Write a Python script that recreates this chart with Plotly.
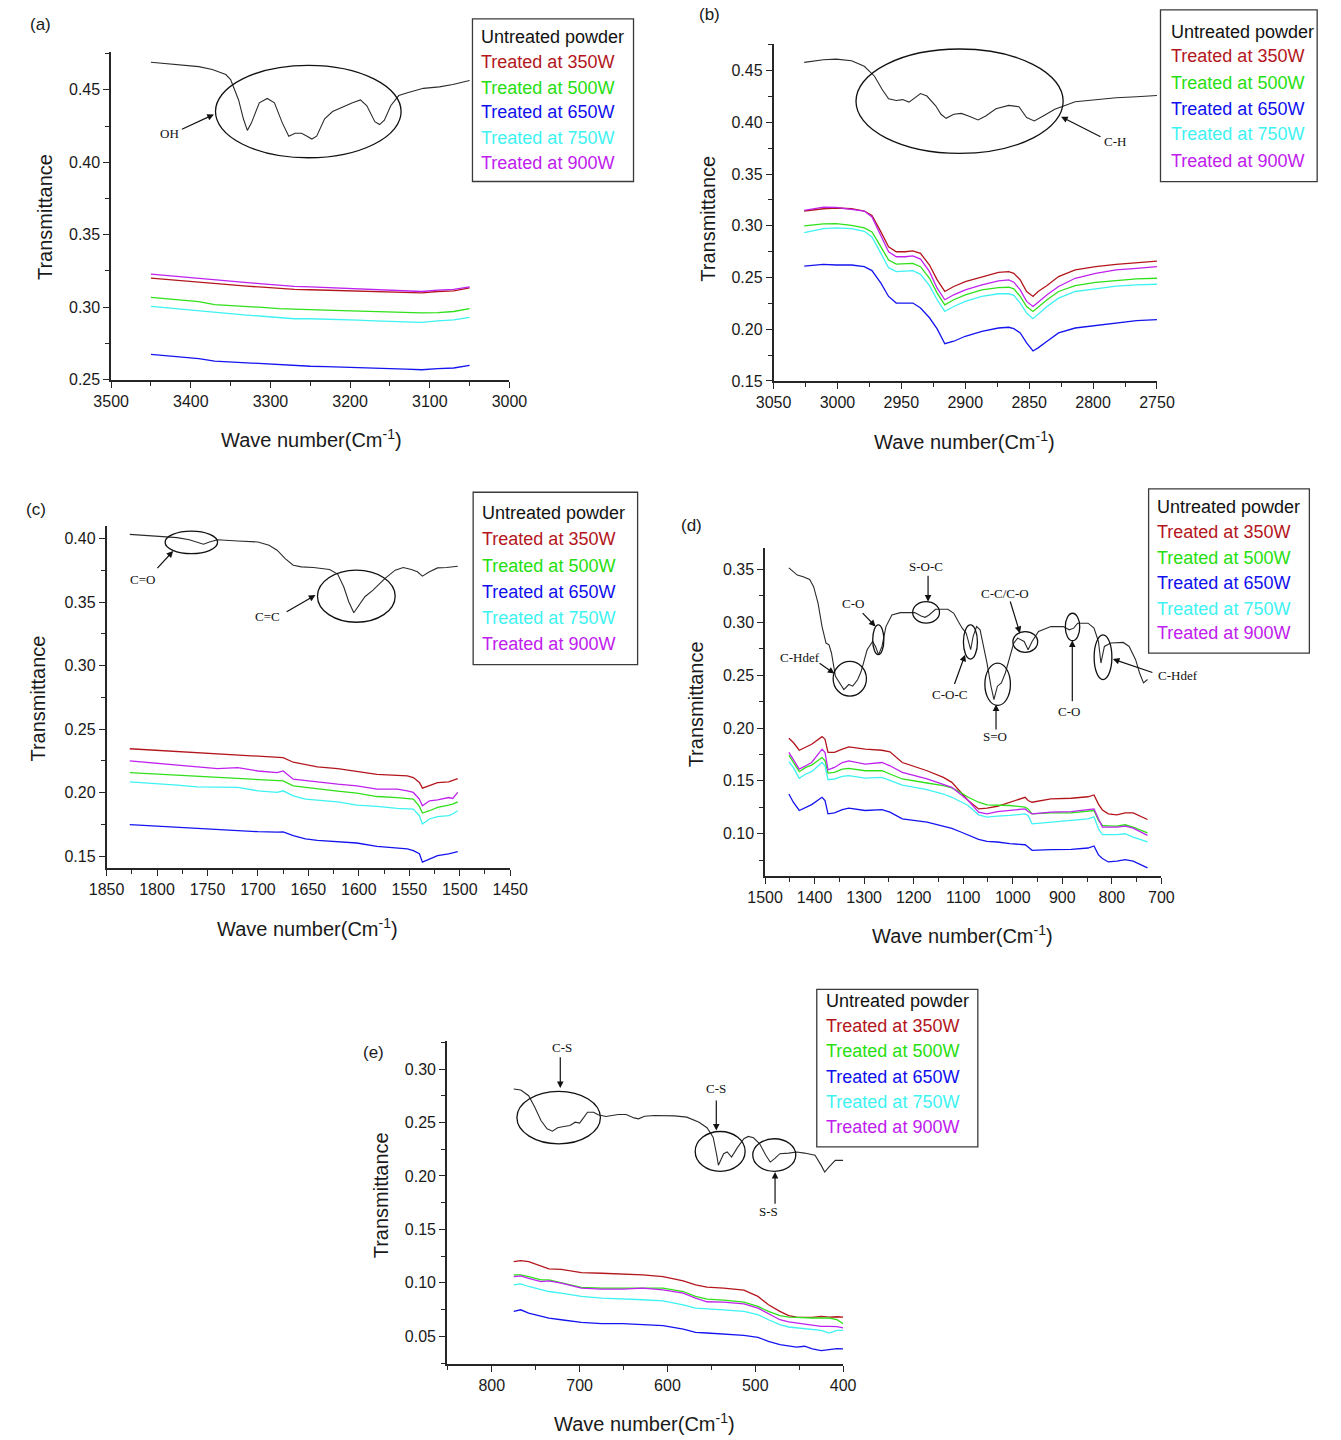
import plotly.graph_objects as go

FIG_W, FIG_H = 1341, 1440

SERIES_NAMES = ["Untreated powder", "Treated at 350W", "Treated at 500W",
                "Treated at 650W", "Treated at 750W", "Treated at 900W"]

# ---------------- (a) 3450-3050 cm-1 ----------------
A_UNT_WN = [3450, 3420, 3390, 3373, 3356, 3350, 3340, 3334, 3329, 3324, 3314, 3304,
            3295, 3285, 3277, 3269, 3261, 3254, 3248, 3242, 3232, 3222, 3210, 3197,
            3187, 3179, 3169, 3163, 3157, 3149, 3139, 3128, 3108, 3088, 3071, 3050]
A_UNT_T = [0.469, 0.4675, 0.466, 0.464, 0.4605, 0.457, 0.443, 0.430, 0.422, 0.427,
           0.441, 0.444, 0.441, 0.427, 0.418, 0.420, 0.420, 0.418, 0.416, 0.418,
           0.430, 0.435, 0.438, 0.441, 0.443, 0.439, 0.428, 0.426, 0.429, 0.439,
           0.446, 0.448, 0.451, 0.452, 0.4537, 0.4564]
A_WN = [3450, 3430, 3410, 3390, 3370, 3350, 3330, 3310, 3290, 3270, 3250, 3230, 3210,
        3190, 3170, 3150, 3130, 3110, 3090, 3070, 3050]
A_350 = [0.3200, 0.3190, 0.3180, 0.3172, 0.3160, 0.3152, 0.3145, 0.3138, 0.3130, 0.3122,
         0.3120, 0.3117, 0.3115, 0.3112, 0.3110, 0.3108, 0.3103, 0.3098, 0.3108, 0.3112, 0.3133]
A_500 = [0.3067, 0.3058, 0.3047, 0.3038, 0.3017, 0.3012, 0.3005, 0.2998, 0.2990, 0.2985,
         0.2982, 0.2980, 0.2976, 0.2972, 0.2968, 0.2963, 0.2960, 0.2960, 0.2962, 0.2970, 0.2990]
A_650 = [0.2674, 0.2665, 0.2655, 0.2645, 0.2628, 0.2622, 0.2615, 0.2607, 0.2600, 0.2594,
         0.2592, 0.2590, 0.2585, 0.2582, 0.2578, 0.2575, 0.2572, 0.2568, 0.2575, 0.2580, 0.2598]
A_750 = [0.3005, 0.2995, 0.2985, 0.2975, 0.2960, 0.2953, 0.2945, 0.2937, 0.2928, 0.2920,
         0.2920, 0.2918, 0.2915, 0.2910, 0.2905, 0.2900, 0.2898, 0.2895, 0.2905, 0.2912, 0.2930]
A_900 = [0.3228, 0.3218, 0.3207, 0.3197, 0.3185, 0.3177, 0.3170, 0.3160, 0.3152, 0.3143,
         0.3140, 0.3136, 0.3132, 0.3127, 0.3122, 0.3117, 0.3112, 0.3108, 0.3118, 0.3122, 0.3140]

# ---------------- (b) 3025-2750 cm-1 ----------------
B_UNT_WN = [3026, 3011, 3001, 2989, 2979, 2971, 2965, 2960, 2954, 2949, 2944, 2939,
            2935, 2930, 2923, 2919, 2915, 2909, 2903, 2896, 2890, 2884, 2876, 2866,
            2858, 2852, 2846, 2839, 2830, 2814, 2798, 2782, 2766, 2750]
B_UNT_T = [0.4580, 0.4606, 0.4611, 0.4596, 0.4542, 0.4446, 0.4318, 0.4228, 0.4212, 0.4220,
           0.4196, 0.4238, 0.4279, 0.4254, 0.4158, 0.4078, 0.4039, 0.4078, 0.4087, 0.4055,
           0.4023, 0.4062, 0.4132, 0.4164, 0.4151, 0.4046, 0.4014, 0.4062, 0.4126, 0.4199,
           0.4222, 0.4238, 0.4247, 0.4260]
B_WN = [3026, 3011, 3001, 2989, 2979, 2973, 2966, 2960, 2954, 2947, 2941, 2935, 2928,
        2922, 2916, 2909, 2900, 2887, 2874, 2866, 2862, 2857, 2852, 2847, 2843, 2836,
        2827, 2814, 2798, 2782, 2766, 2750]
B_350 = [0.3143, 0.3165, 0.3172, 0.3165, 0.3143, 0.3100, 0.2941, 0.2797, 0.2749, 0.2749,
         0.2758, 0.2733, 0.2621, 0.2477, 0.2365, 0.2413, 0.2461, 0.2509, 0.2550, 0.2557,
         0.2541, 0.2477, 0.2365, 0.2317, 0.2365, 0.2422, 0.2509, 0.2573, 0.2605, 0.2627,
         0.2646, 0.2659]
B_500 = [0.2999, 0.3018, 0.3021, 0.3005, 0.2979, 0.2941, 0.2797, 0.2669, 0.2630, 0.2633,
         0.2637, 0.2605, 0.2493, 0.2349, 0.2236, 0.2285, 0.2333, 0.2381, 0.2403, 0.2406,
         0.2390, 0.2317, 0.2220, 0.2172, 0.2214, 0.2285, 0.2365, 0.2422, 0.2454, 0.2473,
         0.2486, 0.2493]
B_650 = [0.2611, 0.2627, 0.2621, 0.2621, 0.2605, 0.2567, 0.2445, 0.2317, 0.2253, 0.2253,
         0.2253, 0.2205, 0.2111, 0.2004, 0.1860, 0.1884, 0.1932, 0.1980, 0.2012, 0.2019,
         0.2006, 0.1964, 0.1868, 0.1790, 0.1820, 0.1884, 0.1964, 0.2012, 0.2038, 0.2060,
         0.2083, 0.2092]
B_750 = [0.2935, 0.2973, 0.2979, 0.2973, 0.2947, 0.2893, 0.2733, 0.2595, 0.2557, 0.2563,
         0.2566, 0.2531, 0.2422, 0.2285, 0.2172, 0.2220, 0.2269, 0.2317, 0.2343, 0.2343,
         0.2327, 0.2253, 0.2156, 0.2102, 0.2147, 0.2220, 0.2301, 0.2365, 0.2390, 0.2416,
         0.2429, 0.2435]
B_900 = [0.3150, 0.3181, 0.3178, 0.3159, 0.3143, 0.3085, 0.2902, 0.2749, 0.2701, 0.2701,
         0.2710, 0.2678, 0.2557, 0.2397, 0.2285, 0.2333, 0.2381, 0.2429, 0.2467, 0.2477,
         0.2455, 0.2381, 0.2269, 0.2220, 0.2262, 0.2333, 0.2413, 0.2493, 0.2541, 0.2573,
         0.2589, 0.2605]

# ---------------- (c) 1825-1500 cm-1 ----------------
C_UNT_WN = [1827, 1799, 1780, 1768, 1760, 1754, 1748, 1740, 1720, 1700, 1689, 1681,
            1673, 1665, 1657, 1645, 1629, 1621, 1615, 1610, 1605, 1600, 1594, 1586,
            1574, 1564, 1556, 1548, 1542, 1537, 1530, 1522, 1513, 1502]
C_UNT_T = [0.4034, 0.4018, 0.4008, 0.3992, 0.3974, 0.3956, 0.3974, 0.3992, 0.3982, 0.3974,
           0.3948, 0.3909, 0.3843, 0.3791, 0.3778, 0.3773, 0.3757, 0.3721, 0.3621, 0.3504,
           0.3417, 0.3477, 0.3543, 0.3595, 0.3687, 0.3752, 0.3773, 0.3757, 0.3739, 0.3705,
           0.3739, 0.3770, 0.3773, 0.3783]
C_WN = [1827, 1799, 1780, 1760, 1740, 1720, 1700, 1681, 1675, 1665, 1653, 1641, 1621,
        1602, 1582, 1562, 1552, 1546, 1540, 1537, 1530, 1522, 1511, 1507, 1502]
C_350 = [0.2346, 0.2333, 0.2328, 0.2319, 0.2310, 0.2300, 0.2289, 0.2279, 0.2276, 0.2240,
         0.2220, 0.2203, 0.2190, 0.2166, 0.2145, 0.2137, 0.2132, 0.2119, 0.2080, 0.2036,
         0.2054, 0.2080, 0.2085, 0.2095, 0.2111]
C_500 = [0.2158, 0.2145, 0.2137, 0.2128, 0.2119, 0.2110, 0.2100, 0.2096, 0.2093, 0.2054,
         0.2041, 0.2028, 0.2012, 0.1996, 0.1970, 0.1962, 0.1957, 0.1949, 0.1892, 0.1840,
         0.1858, 0.1884, 0.1902, 0.1910, 0.1928]
C_650 = [0.1748, 0.1735, 0.1727, 0.1718, 0.1709, 0.1701, 0.1693, 0.1690, 0.1692, 0.1662,
         0.1636, 0.1625, 0.1615, 0.1604, 0.1578, 0.1564, 0.1557, 0.1544, 0.1520, 0.1453,
         0.1479, 0.1505, 0.1518, 0.1525, 0.1537]
C_750 = [0.2085, 0.2072, 0.2059, 0.2046, 0.2042, 0.2042, 0.2015, 0.2002, 0.2015, 0.1975,
         0.1949, 0.1941, 0.1928, 0.1902, 0.1892, 0.1876, 0.1874, 0.1871, 0.1819, 0.1753,
         0.1793, 0.1811, 0.1819, 0.1832, 0.1858]
C_900 = [0.2250, 0.2231, 0.2216, 0.2203, 0.2190, 0.2198, 0.2171, 0.2158, 0.2171, 0.2106,
         0.2093, 0.2085, 0.2067, 0.2054, 0.2028, 0.2028, 0.2015, 0.2002, 0.1949, 0.1897,
         0.1936, 0.1944, 0.1962, 0.1955, 0.2002]

# ---------------- (d) 1450-725 cm-1 ----------------
D_UNT_WN = [1452, 1435, 1423, 1410, 1402, 1393, 1385, 1377, 1371, 1366, 1358, 1349,
            1341, 1331, 1323, 1313, 1306, 1294, 1283, 1277, 1271, 1264, 1256, 1244,
            1227, 1206, 1198, 1185, 1177, 1169, 1156, 1131, 1119, 1110, 1102, 1094,
            1085, 1080, 1073, 1066, 1060, 1052, 1044, 1038, 1031, 1023, 1015, 1006,
            998, 990, 977, 969, 961, 948, 923, 898, 886, 877, 869, 848, 836, 827,
            822, 815, 802, 777, 765, 752, 744, 736, 728]
D_UNT_T = [0.3516, 0.3447, 0.3431, 0.3406, 0.3337, 0.3180, 0.2960, 0.2804, 0.2788, 0.2710,
           0.2490, 0.2427, 0.2364, 0.2412, 0.2396, 0.2459, 0.2537, 0.2741, 0.2819, 0.2772,
           0.2694, 0.2772, 0.2960, 0.3070, 0.3092, 0.3092, 0.3092, 0.3061, 0.3048, 0.3070,
           0.3124, 0.3124, 0.3086, 0.3008, 0.2945, 0.2898, 0.2741, 0.2867, 0.2960, 0.2929,
           0.2804, 0.2615, 0.2396, 0.2270, 0.2396, 0.2427, 0.2521, 0.2678, 0.2804, 0.2851,
           0.2819, 0.2741, 0.2819, 0.2913, 0.2960, 0.2960, 0.2929, 0.2945, 0.2992, 0.2992,
           0.2945, 0.2819, 0.2615, 0.2772, 0.2804, 0.2810, 0.2772, 0.2647, 0.2521, 0.2427,
           0.2459]
D_WN = [1452, 1443, 1431, 1418, 1406, 1385, 1379, 1373, 1360, 1344, 1331, 1298, 1264,
        1248, 1223, 1173, 1140, 1123, 1106, 1090, 1069, 1052, 1031, 1006, 975, 969, 961,
        923, 882, 848, 836, 827, 819, 807, 790, 773, 757, 728]
D_350 = [0.1903, 0.1863, 0.1790, 0.1816, 0.1847, 0.1919, 0.1894, 0.1769, 0.1769, 0.1800,
         0.1822, 0.1800, 0.1790, 0.1775, 0.1674, 0.1596, 0.1533, 0.1486, 0.1392, 0.1314,
         0.1235, 0.1242, 0.1260, 0.1298, 0.1345, 0.1314, 0.1298, 0.1329, 0.1336, 0.1350,
         0.1367, 0.1280, 0.1225, 0.1188, 0.1179, 0.1198, 0.1198, 0.1135]
D_500 = [0.1743, 0.1681, 0.1587, 0.1628, 0.1649, 0.1721, 0.1690, 0.1574, 0.1580, 0.1612,
         0.1618, 0.1596, 0.1596, 0.1565, 0.1518, 0.1480, 0.1455, 0.1433, 0.1392, 0.1345,
         0.1298, 0.1273, 0.1273, 0.1267, 0.1251, 0.1235, 0.1188, 0.1198, 0.1198, 0.1210,
         0.1220, 0.1125, 0.1078, 0.1075, 0.1072, 0.1085, 0.1063, 0.1009]
D_650 = [0.1376, 0.1298, 0.1220, 0.1251, 0.1276, 0.1345, 0.1314, 0.1188, 0.1198, 0.1229,
         0.1242, 0.1220, 0.1229, 0.1204, 0.1141, 0.1110, 0.1072, 0.1050, 0.1019, 0.0991,
         0.0947, 0.0928, 0.0922, 0.0906, 0.0896, 0.0875, 0.0843, 0.0849, 0.0853, 0.0865,
         0.0884, 0.0800, 0.0765, 0.0733, 0.0740, 0.0755, 0.0740, 0.0677]
D_750 = [0.1681, 0.1628, 0.1524, 0.1565, 0.1587, 0.1674, 0.1643, 0.1511, 0.1518, 0.1543,
         0.1549, 0.1527, 0.1533, 0.1502, 0.1461, 0.1417, 0.1376, 0.1345, 0.1304, 0.1267,
         0.1179, 0.1157, 0.1167, 0.1173, 0.1188, 0.1173, 0.1094, 0.1110, 0.1125, 0.1141,
         0.1160, 0.1047, 0.0991, 0.0991, 0.0991, 0.1000, 0.0969, 0.0922]
D_900 = [0.1769, 0.1706, 0.1612, 0.1643, 0.1674, 0.1800, 0.1769, 0.1605, 0.1627, 0.1674,
         0.1690, 0.1659, 0.1674, 0.1643, 0.1580, 0.1518, 0.1470, 0.1439, 0.1376, 0.1314,
         0.1204, 0.1188, 0.1210, 0.1220, 0.1235, 0.1210, 0.1188, 0.1204, 0.1210, 0.1229,
         0.1235, 0.1141, 0.1063, 0.1063, 0.1063, 0.1072, 0.1053, 0.0984]

# ---------------- (e) 775-400 cm-1 ----------------
E_UNT_WN = [775, 767, 758, 751, 744, 737, 731, 725, 718, 711, 705, 700, 695, 691, 684,
            679, 670, 656, 647, 638, 633, 626, 615, 592, 578, 564, 555, 548, 544, 542,
            536, 532, 527, 520, 513, 508, 502, 495, 488, 483, 478, 472, 462, 453, 444,
            432, 425, 421, 416, 409, 400]
E_UNT_T = [0.2814, 0.2804, 0.2751, 0.2643, 0.2519, 0.2441, 0.2419, 0.2451, 0.2463, 0.2472,
           0.2503, 0.2494, 0.2550, 0.2596, 0.2596, 0.2572, 0.2556, 0.2575, 0.2575, 0.2543,
           0.2534, 0.2559, 0.2565, 0.2562, 0.2550, 0.2503, 0.2451, 0.2363, 0.2200, 0.2100,
           0.2208, 0.2224, 0.2177, 0.2270, 0.2348, 0.2370, 0.2357, 0.2301, 0.2193, 0.2130,
           0.2162, 0.2208, 0.2214, 0.2224, 0.2214, 0.2193, 0.2099, 0.2037, 0.2084, 0.2146,
           0.2146]
E_WN = [775, 767, 758, 744, 735, 721, 698, 675, 651, 628, 605, 582, 568, 555, 536, 513,
        497, 485, 472, 462, 453, 444, 435, 425, 416, 407, 400]
E_350 = [0.1199, 0.1208, 0.1199, 0.1158, 0.1130, 0.1127, 0.1096, 0.1090, 0.1084, 0.1075,
         0.1059, 0.1019, 0.0981, 0.0960, 0.0950, 0.0932, 0.0873, 0.0795, 0.0733, 0.0693,
         0.0680, 0.0677, 0.0677, 0.0686, 0.0680, 0.0683, 0.0680]
E_500 = [0.1075, 0.1075, 0.1059, 0.1028, 0.1028, 0.1003, 0.0957, 0.0950, 0.0947, 0.0950,
         0.0950, 0.0919, 0.0873, 0.0848, 0.0838, 0.0820, 0.0779, 0.0733, 0.0693, 0.0680,
         0.0677, 0.0671, 0.0671, 0.0671, 0.0671, 0.0655, 0.0618]
E_650 = [0.0733, 0.0748, 0.0717, 0.0686, 0.0671, 0.0655, 0.0630, 0.0618, 0.0618, 0.0609,
         0.0599, 0.0568, 0.0537, 0.0531, 0.0522, 0.0509, 0.0490, 0.0453, 0.0422, 0.0407,
         0.0398, 0.0407, 0.0382, 0.0366, 0.0376, 0.0385, 0.0382]
E_750 = [0.0981, 0.0991, 0.0966, 0.0935, 0.0919, 0.0904, 0.0873, 0.0857, 0.0851, 0.0842,
         0.0832, 0.0795, 0.0764, 0.0755, 0.0748, 0.0733, 0.0702, 0.0655, 0.0609, 0.0587,
         0.0578, 0.0568, 0.0562, 0.0556, 0.0531, 0.0556, 0.0556]
E_900 = [0.1059, 0.1065, 0.1043, 0.1012, 0.1018, 0.0997, 0.0950, 0.0941, 0.0941, 0.0950,
         0.0935, 0.0904, 0.0857, 0.0823, 0.0820, 0.0804, 0.0764, 0.0708, 0.0655, 0.0634,
         0.0624, 0.0609, 0.0600, 0.0593, 0.0593, 0.0590, 0.0578]

# ---------------- styling ----------------
LINE_COLORS = ["#2b2b2b", "#b3161c", "#2fe01a", "#1414f0", "#3ef2f2", "#bf22ee"]
TEXT_COLORS = ["#111111", "#b3161c", "#26de10", "#1010ee", "#3ff2f2", "#c020ee"]
AXIS_COLOR = "#262626"
SANS = "Liberation Sans, Arial, sans-serif"
SERIF = "Liberation Serif, Times New Roman, serif"


def fx(px):
    return px / FIG_W


def fy(py):
    return 1 - py / FIG_H


# pixel boxes (left, top, right, bottom) of each plotting area, legend boxes and text
PANELS = [
    dict(tag="(a)", tag_pos=(23, 25),
         unt=(A_UNT_WN, A_UNT_T), wn=A_WN, treated=[A_350, A_500, A_650, A_750, A_900],
         box=(95.7, 52.7, 505.0, 382.0), xrange=[3500, 3000], yrange=[0.2498, 0.4758],
         xdtick=100, xminor=50,
         ytitle=(28, 218), xtitle=(302, 441),
         legend=(467, 19, 632.5, 182.5), legend_x=474, legend_rows=[37, 62, 88, 113, 139, 164]),
    dict(tag="(b)", tag_pos=(711, 15),
         unt=(B_UNT_WN, B_UNT_T), wn=B_WN, treated=[B_350, B_500, B_650, B_750, B_900],
         box=(776.4, 44.3, 1170.4, 383.3), xrange=[3050, 2750], yrange=[0.1498, 0.4757],
         xdtick=50, xminor=25,
         ytitle=(709, 220), xtitle=(973, 443),
         legend=(1174, 10, 1335, 182.7), legend_x=1183, legend_rows=[31.7, 56.7, 83.3, 109.3, 135, 162.3]),
    dict(tag="(c)", tag_pos=(18.5, 512),
         unt=(C_UNT_WN, C_UNT_T), wn=C_WN, treated=[C_350, C_500, C_650, C_750, C_900],
         box=(91.0, 529.3, 505.8, 873.0), xrange=[1850, 1450], yrange=[0.1406, 0.4097],
         xdtick=50, xminor=25,
         ytitle=(21, 702), xtitle=(297, 933),
         legend=(467.7, 495, 636.7, 668.3), legend_x=474.5, legend_rows=[516, 542, 569, 595, 621, 648]),
    dict(tag="(d)", tag_pos=(692, 528),
         unt=(D_UNT_WN, D_UNT_T), wn=D_WN, treated=[D_350, D_500, D_650, D_750, D_900],
         box=(767.7, 551.0, 1174.9, 880.7), xrange=[1500, 700], yrange=[0.0602, 0.3704],
         xdtick=100, xminor=50,
         ytitle=(697, 708), xtitle=(971, 940),
         legend=(1161.8, 491.7, 1327, 656.7), legend_x=1168.5, legend_rows=[510, 535, 561, 586, 612, 637]),
    dict(tag="(e)", tag_pos=(365, 1058),
         unt=(E_UNT_WN, E_UNT_T), wn=E_WN, treated=[E_350, E_500, E_650, E_750, E_900],
         box=(440.8, 1047.3, 847.9, 1371.5), xrange=[851, 400], yrange=[0.0242, 0.3258],
         xdtick=100, xminor=50,
         ytitle=(373, 1202), xtitle=(644, 1430),
         legend=(820.8, 995, 986.3, 1153.3), legend_x=828, legend_rows=[1007, 1032, 1057, 1083, 1108, 1133]),
]

# band markers drawn on the untreated spectrum: ellipses, labels, arrows (data units)
MARKERS = {
    1: dict(
        ellipses=[(3369, 3136, 0.4031, 0.4669)],
        labels=[(3427, 0.4200, "OH")],
        arrows=[((3413, 0.4223), (3371, 0.4330))]),
    2: dict(
        ellipses=[(2985.5, 2823.4, 0.3700, 0.4709)],
        labels=[(2783, 0.3812, "C-H")],
        arrows=[((2793, 0.3853), (2825, 0.4055))]),
    3: dict(
        ellipses=[(1792, 1740, 0.3882, 0.4060), (1641, 1564, 0.3342, 0.3752)],
        labels=[(1814, 0.3679, "C=O"), (1691, 0.3391, "C=C")],
        arrows=[((1801, 0.3757), (1784, 0.3903)), ((1673, 0.3417), (1643, 0.3556))]),
    4: dict(
        ellipses=[(1362.6, 1295.4, 0.2302, 0.2631), (1282.7, 1260.2, 0.2694, 0.2976),
                  (1202.0, 1147.9, 0.2992, 0.3196), (1099.6, 1071.3, 0.2653, 0.2976),
                  (1056.3, 1004.7, 0.2214, 0.2615), (999.7, 949.7, 0.2716, 0.2913),
                  (893.9, 864.8, 0.2826, 0.3086), (835.7, 799.9, 0.2459, 0.2882)],
        labels=[(1429, 0.2672, "C-Hdef"), (1323, 0.3174, "C-O"), (1175, 0.3525, "S-O-C"),
                (1015, 0.3274, "C-C/C-O"), (1127, 0.2317, "C-O-C"), (1035.5, 0.1919, "S=O"),
                (885.6, 0.2161, "C-O")],
        arrows=[((1393, 0.2622), (1360, 0.2515)), ((1306, 0.3102), (1277, 0.2961)),
                ((1171, 0.3456), (1171, 0.3196)), ((1006, 0.3211), (985.5, 0.2898)),
                ((1118.7, 0.2402), (1096.2, 0.2694)), ((1033.8, 0.1972), (1033.8, 0.2223)),
                ((879.8, 0.2239), (879.8, 0.2829)), ((715, 0.2521), (798, 0.2653))],
        paper_labels=[(1192, 679, "C-Hdef")]),
    5: dict(
        ellipses=[(771.4, 676.3, 0.2301, 0.2792), (568.4, 511.6, 0.2043, 0.2416),
                  (502.9, 453.9, 0.2043, 0.2348)],
        labels=[(720.6, 0.3202, "C-S"), (545.3, 0.2820, "C-S"), (484.4, 0.1665, "S-S")],
        arrows=[((722, 0.3124), (722, 0.2823)), ((544.4, 0.2720), (544.4, 0.2425)),
                ((477.5, 0.1727), (477.5, 0.2037))]),
}

AXIS_STYLE = dict(
    showline=True, linecolor=AXIS_COLOR, linewidth=1.6,
    ticks="outside", ticklen=6, tickwidth=1.4, tickcolor=AXIS_COLOR,
    showgrid=False, zeroline=False,
    tickfont=dict(family=SANS, size=16, color="#1a1a1a"),
)


def minor_style(step):
    return dict(dtick=step, ticks="outside", ticklen=4, tickwidth=1.2,
                tickcolor=AXIS_COLOR, showgrid=False)


fig = go.Figure()
layout = {}
annotations = []
shapes = []

for i, p in enumerate(PANELS, start=1):
    xname = "x" if i == 1 else f"x{i}"
    yname = "y" if i == 1 else f"y{i}"
    xa = "xaxis" if i == 1 else f"xaxis{i}"
    ya = "yaxis" if i == 1 else f"yaxis{i}"
    left, top, right, bottom = p["box"]

    layout[xa] = dict(domain=[fx(left), fx(right)], anchor=yname, range=p["xrange"],
                      tick0=0, dtick=p["xdtick"], minor=minor_style(p["xminor"]), **AXIS_STYLE)
    layout[ya] = dict(domain=[fy(bottom), fy(top)], anchor=xname, range=p["yrange"],
                      tick0=0, dtick=0.05, tickformat=".2f", minor=minor_style(0.025), **AXIS_STYLE)

    # spectra
    fig.add_trace(go.Scatter(x=p["unt"][0], y=p["unt"][1], mode="lines", name=SERIES_NAMES[0],
                             line=dict(color=LINE_COLORS[0], width=1.1),
                             xaxis=xname, yaxis=yname, showlegend=False))
    for k, vals in enumerate(p["treated"], start=1):
        fig.add_trace(go.Scatter(x=p["wn"], y=vals, mode="lines", name=SERIES_NAMES[k],
                                 line=dict(color=LINE_COLORS[k], width=1.3),
                                 xaxis=xname, yaxis=yname, showlegend=False))

    # panel tag
    tx, ty = p["tag_pos"]
    annotations.append(dict(xref="paper", yref="paper", x=fx(tx), y=fy(ty), text=p["tag"],
                            showarrow=False, xanchor="center", yanchor="middle",
                            font=dict(family=SANS, size=17, color="#1a1a1a")))
    # axis titles
    tx, ty = p["ytitle"]
    annotations.append(dict(xref="paper", yref="paper", x=fx(tx), y=fy(ty), text="Transmittance",
                            textangle=-90, showarrow=False, xanchor="center", yanchor="middle",
                            font=dict(family=SANS, size=20, color="#1a1a1a")))
    tx, ty = p["xtitle"]
    annotations.append(dict(xref="paper", yref="paper", x=fx(tx), y=fy(ty),
                            text="Wave number(Cm<sup>-1</sup>)",
                            showarrow=False, xanchor="center", yanchor="middle",
                            font=dict(family=SANS, size=20, color="#1a1a1a")))

    # legend box with coloured text rows
    l0, t0, r0, b0 = p["legend"]
    shapes.append(dict(type="rect", xref="paper", yref="paper",
                       x0=fx(l0), x1=fx(r0), y0=fy(b0), y1=fy(t0),
                       line=dict(color="#3a3a3a", width=1.3), fillcolor="rgba(0,0,0,0)"))
    for k, row in enumerate(p["legend_rows"]):
        annotations.append(dict(xref="paper", yref="paper", x=fx(p["legend_x"]), y=fy(row),
                                text=SERIES_NAMES[k], showarrow=False,
                                xanchor="left", yanchor="middle",
                                font=dict(family=SANS, size=18, color=TEXT_COLORS[k])))

    # band markers
    m = MARKERS[i]
    for (x0, x1, y0, y1) in m["ellipses"]:
        shapes.append(dict(type="circle", xref=xname, yref=yname, x0=x0, x1=x1, y0=y0, y1=y1,
                           line=dict(color="#111111", width=1.3)))
    for (lx, ly, txt) in m["labels"]:
        annotations.append(dict(xref=xname, yref=yname, x=lx, y=ly, text=txt, showarrow=False,
                                xanchor="center", yanchor="middle",
                                font=dict(family=SERIF, size=13, color="#111111")))
    for (tail, head) in m["arrows"]:
        annotations.append(dict(xref=xname, yref=yname, axref=xname, ayref=yname,
                                x=head[0], y=head[1], ax=tail[0], ay=tail[1], text="",
                                showarrow=True, arrowhead=2, arrowsize=1.1, arrowwidth=1.2,
                                arrowcolor="#111111"))
    for (px, py, txt) in m.get("paper_labels", []):
        annotations.append(dict(xref="paper", yref="paper", x=fx(px), y=fy(py), text=txt,
                                showarrow=False, xanchor="center", yanchor="middle",
                                font=dict(family=SERIF, size=13, color="#111111")))

fig.update_layout(
    width=FIG_W, height=FIG_H,
    margin=dict(l=0, r=0, t=0, b=0),
    paper_bgcolor="white", plot_bgcolor="white",
    showlegend=False,
    annotations=annotations,
    shapes=shapes,
    **layout,
)

# keep the fixed-size figure flush with the page edges
fig.write_html("out.html",
               post_script="document.body.style.margin='0';document.body.style.overflow='hidden';")
